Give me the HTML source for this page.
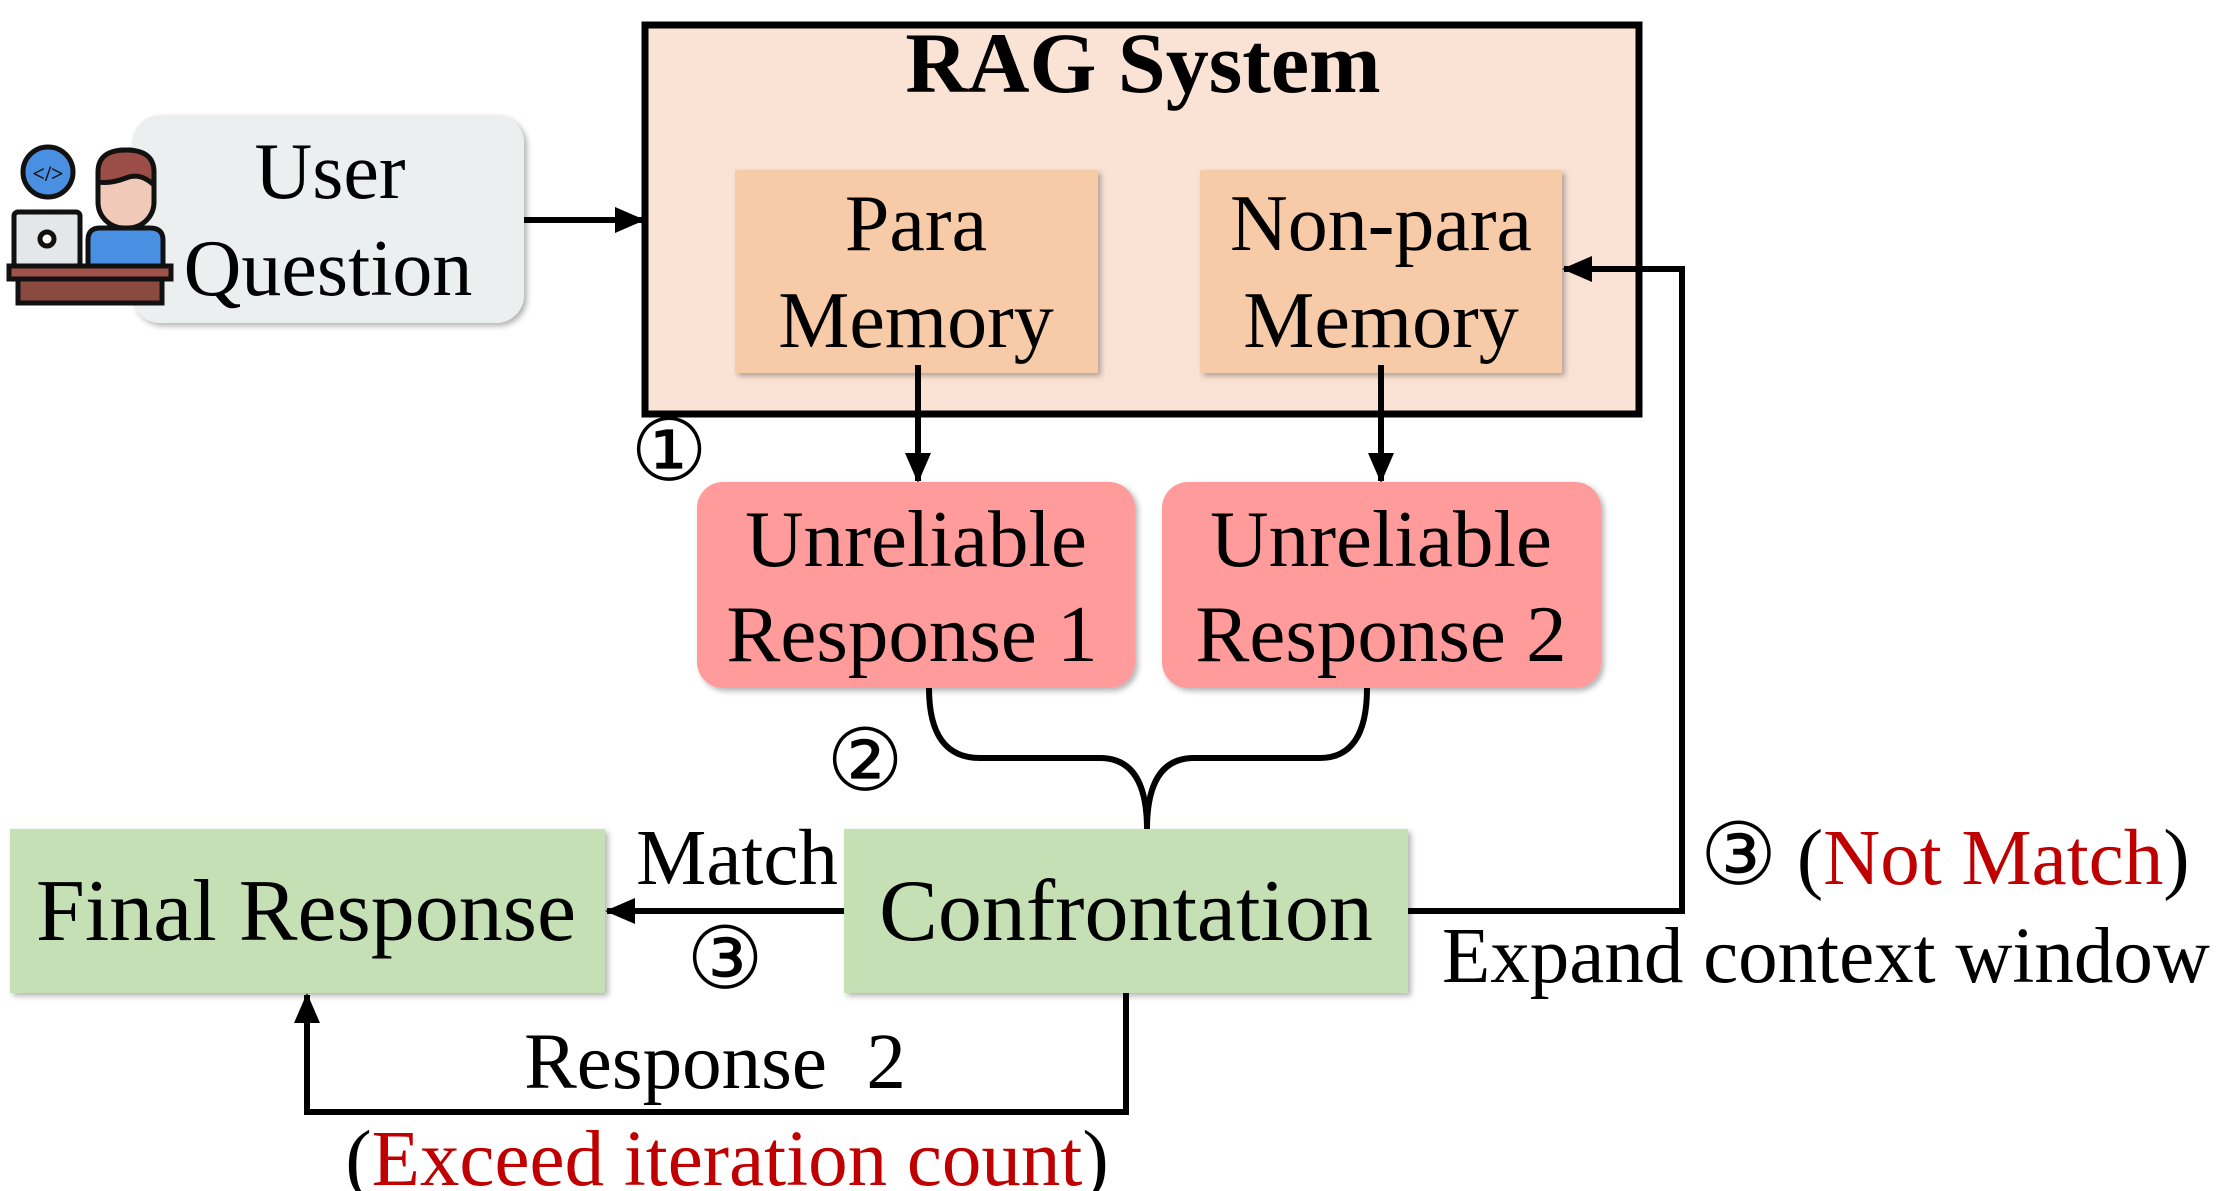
<!DOCTYPE html>
<html><head><meta charset="utf-8"><style>
html,body{margin:0;padding:0;background:#fff;}
svg{display:block;}
text{font-family:"Liberation Serif",serif;}
</style></head><body>
<svg width="2221" height="1191" viewBox="0 0 2221 1191" xmlns="http://www.w3.org/2000/svg">
<defs>
<filter id="sh" x="-10%" y="-10%" width="130%" height="130%"><feDropShadow dx="3" dy="3" stdDeviation="3" flood-color="#000" flood-opacity="0.3"/></filter>
<marker id="ah" markerWidth="30" markerHeight="26" refX="28" refY="13" orient="auto" markerUnits="userSpaceOnUse" viewBox="0 0 30 26"><path d="M0,0 L30,13 L0,26 z" fill="#000"/></marker>
</defs>
<!-- user question -->
<rect x="132" y="115" width="392" height="208" rx="28" fill="#eceff0" filter="url(#sh)"/>
<text x="330" y="198" font-size="80" text-anchor="middle">User</text>
<text x="328" y="295" font-size="80" text-anchor="middle">Question</text>
<!-- icon -->
<g stroke="#111" stroke-width="5">
<circle cx="48" cy="172" r="25" fill="#4a90e2"/>
<rect x="14" y="212" width="66" height="55" rx="4" fill="#e4e7ea"/>
<circle cx="47" cy="239" r="7" fill="#fff"/>
<path d="M88,268 L88,240 Q88,228 100,228 L150,228 Q163,228 163,240 L163,268 z" fill="#4a90e2"/>
<rect x="98" y="150" width="56" height="78" rx="26" fill="#f0c9b8"/>
<path d="M98,182 L98,172 Q98,150 126,150 Q154,150 154,172 L154,185 Q140,172 126,178 Q110,184 98,182 z" fill="#9b4e47"/>
<rect x="9" y="266" width="162" height="13" fill="#a0524a"/>
<rect x="18" y="279" width="144" height="24" fill="#8a4a40"/>
</g>
<text x="48" y="181" font-size="22" text-anchor="middle" fill="#111" font-weight="bold" font-family="Liberation Sans">&lt;/&gt;</text>
<!-- RAG box -->
<rect x="645" y="25" width="994" height="389" fill="#fae3d5" stroke="#000" stroke-width="7"/>
<text x="1143" y="92" font-size="86" font-weight="bold" text-anchor="middle">RAG System</text>
<rect x="735" y="170" width="363" height="203" fill="#f7caa8" filter="url(#sh)"/>
<text x="916" y="250" font-size="80" text-anchor="middle">Para</text>
<text x="916" y="347" font-size="80" text-anchor="middle">Memory</text>
<rect x="1200" y="170" width="362" height="203" fill="#f7caa8" filter="url(#sh)"/>
<text x="1381" y="250" font-size="80" text-anchor="middle">Non-para</text>
<text x="1381" y="347" font-size="80" text-anchor="middle">Memory</text>
<!-- arrow user -> RAG -->
<line x1="524" y1="220" x2="643" y2="220" stroke="#000" stroke-width="6" marker-end="url(#ah)"/>
<!-- memory -> unreliable -->
<line x1="918" y1="365" x2="918" y2="481" stroke="#000" stroke-width="6" marker-end="url(#ah)"/>
<line x1="1381" y1="365" x2="1381" y2="481" stroke="#000" stroke-width="6" marker-end="url(#ah)"/>
<text x="669" y="480" font-size="86" text-anchor="middle">①</text>
<!-- unreliable -->
<rect x="697" y="482" width="438" height="206" rx="26" fill="#ff9b9b" filter="url(#sh)"/>
<text x="916" y="566" font-size="81" text-anchor="middle">Unreliable</text>
<text x="912" y="661" font-size="81" text-anchor="middle">Response 1</text>
<rect x="1162" y="482" width="439" height="206" rx="26" fill="#ff9b9b" filter="url(#sh)"/>
<text x="1381" y="566" font-size="81" text-anchor="middle">Unreliable</text>
<text x="1381" y="661" font-size="81" text-anchor="middle">Response 2</text>
<!-- brace -->
<path d="M929,688 Q929,758 980,758 L1100,758 Q1147,758 1147,829 Q1147,758 1194,758 L1320,758 Q1367,758 1367,688" fill="none" stroke="#000" stroke-width="6"/>
<text x="865" y="790" font-size="86" text-anchor="middle">②</text>
<!-- confrontation -->
<rect x="844" y="829" width="564" height="164" fill="#c5e0b4" filter="url(#sh)"/>
<text x="1126" y="940" font-size="88" text-anchor="middle">Confrontation</text>
<rect x="10" y="829" width="595" height="164" fill="#c5e0b4" filter="url(#sh)"/>
<text x="306" y="940" font-size="88" text-anchor="middle">Final Response</text>
<!-- match arrow -->
<line x1="844" y1="911" x2="607" y2="911" stroke="#000" stroke-width="6" marker-end="url(#ah)"/>
<text x="737" y="884" font-size="79" text-anchor="middle">Match</text>
<text x="725" y="988" font-size="86" text-anchor="middle">③</text>
<!-- not match -->
<polyline points="1408,911 1682,911 1682,269 1564,269" fill="none" stroke="#000" stroke-width="6" marker-end="url(#ah)"/>
<text x="1700" y="884" font-size="79"><tspan font-size="86">③</tspan> (<tspan fill="#c00000">Not Match</tspan>)</text>
<text x="1442" y="982" font-size="79">Expand context window</text>
<!-- exceed -->
<polyline points="1126,993 1126,1112 307,1112 307,995" fill="none" stroke="#000" stroke-width="6" marker-end="url(#ah)"/>
<text x="715" y="1088" font-size="79" text-anchor="middle" xml:space="preserve">Response  2</text>
<text x="727" y="1185" font-size="79" text-anchor="middle">(<tspan fill="#c00000">Exceed iteration count</tspan>)</text>
</svg>
</body></html>
